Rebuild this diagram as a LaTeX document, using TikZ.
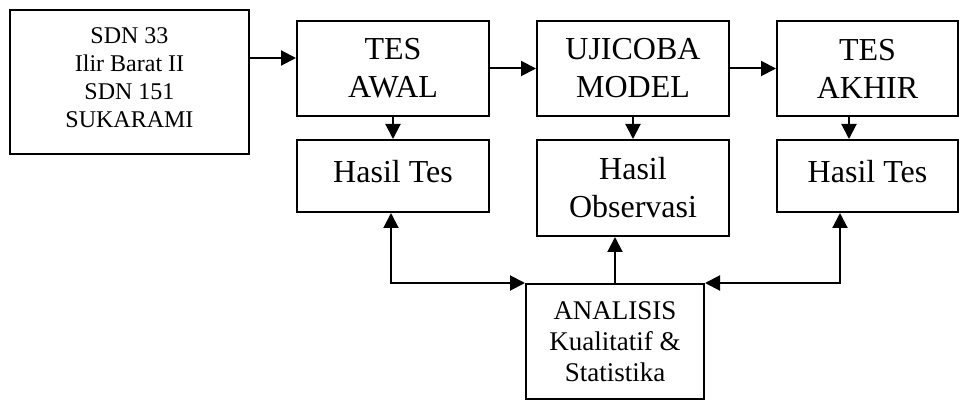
\documentclass[tikz,border=0pt]{standalone}
\usepackage{fontspec}
\setmainfont{Liberation Serif}
\usetikzlibrary{positioning,arrows.meta,calc}

\tikzset{
  kotak/.style={draw, line width=1pt, align=center, inner sep=0pt},
  besar/.style={font=\fontsize{16}{19}\selectfont},
  kecil/.style={font=\fontsize{12}{14}\selectfont},
  panah/.style={line width=1pt, -{Triangle[length=7.5pt,width=7.5pt]}},
  duapanah/.style={line width=1pt, {Triangle[length=7.5pt,width=7.5pt]}-{Triangle[length=7.5pt,width=7.5pt]}}
}

\begin{document}
\begin{tikzpicture}[x=0.5pt, y=-0.5pt]
            \useasboundingbox (0,0) rectangle (960,401);

            \node[kotak, kecil, text depth=4pt, minimum width=119.5pt, minimum height=72pt] (sdn) at (129.5,82) {SDN 33\\Ilir Barat II\\SDN 151\\SUKARAMI};

            \node[kotak, besar, minimum width=96pt, minimum height=47.5pt] (awal) at (393,68.5) {TES\\AWAL};
            \node[kotak, besar, minimum width=96pt, minimum height=47.5pt] (uji) at (633,68.5) {UJICOBA\\MODEL};
            \node[kotak, besar, minimum width=90.5pt, minimum height=47.5pt] (akhir) at (867.5,68.5) {TES\\AKHIR};

            \node[kotak, besar, text depth=5pt, minimum width=96pt, minimum height=36pt] (hasilawal) at (393,176) {Hasil Tes};
            \node[kotak, besar, minimum width=96pt, minimum height=48pt] (observasi) at (633,188) {Hasil\\Observasi};
            \node[kotak, besar, text depth=5pt, minimum width=90.5pt, minimum height=36pt] (hasilakhir) at (867.5,176) {Hasil Tes};

            \node[kotak, font=\fontsize{13.5}{15.5}\selectfont, minimum width=89pt, minimum height=57.5pt] (analisis) at (615,341.5) {ANALISIS\\Kualitatif \&\\Statistika};

            % alur utama
            \draw[panah] ([yshift=12pt]sdn.east) -- ([yshift=12pt]sdn.east -| awal.west);
            \draw[panah] (awal) -- (uji);
            \draw[panah] (uji) -- (akhir);

            % hasil tiap tahap
            \draw[panah] (awal) -- (hasilawal);
            \draw[panah] (uji) -- (observasi);
            \draw[panah] ([xshift=-9.25pt]akhir.south) -- ([xshift=-9.25pt]hasilakhir.north);

            % ke analisis
            \draw[duapanah] ([xshift=-1pt]hasilawal.south) |- (analisis.north west);
            \draw[duapanah] ([xshift=-13.75pt]hasilakhir.south) |- (analisis.north east);
            \draw[panah] (analisis.north) -- (analisis.north |- observasi.south);
        \end{tikzpicture}
\end{document}
